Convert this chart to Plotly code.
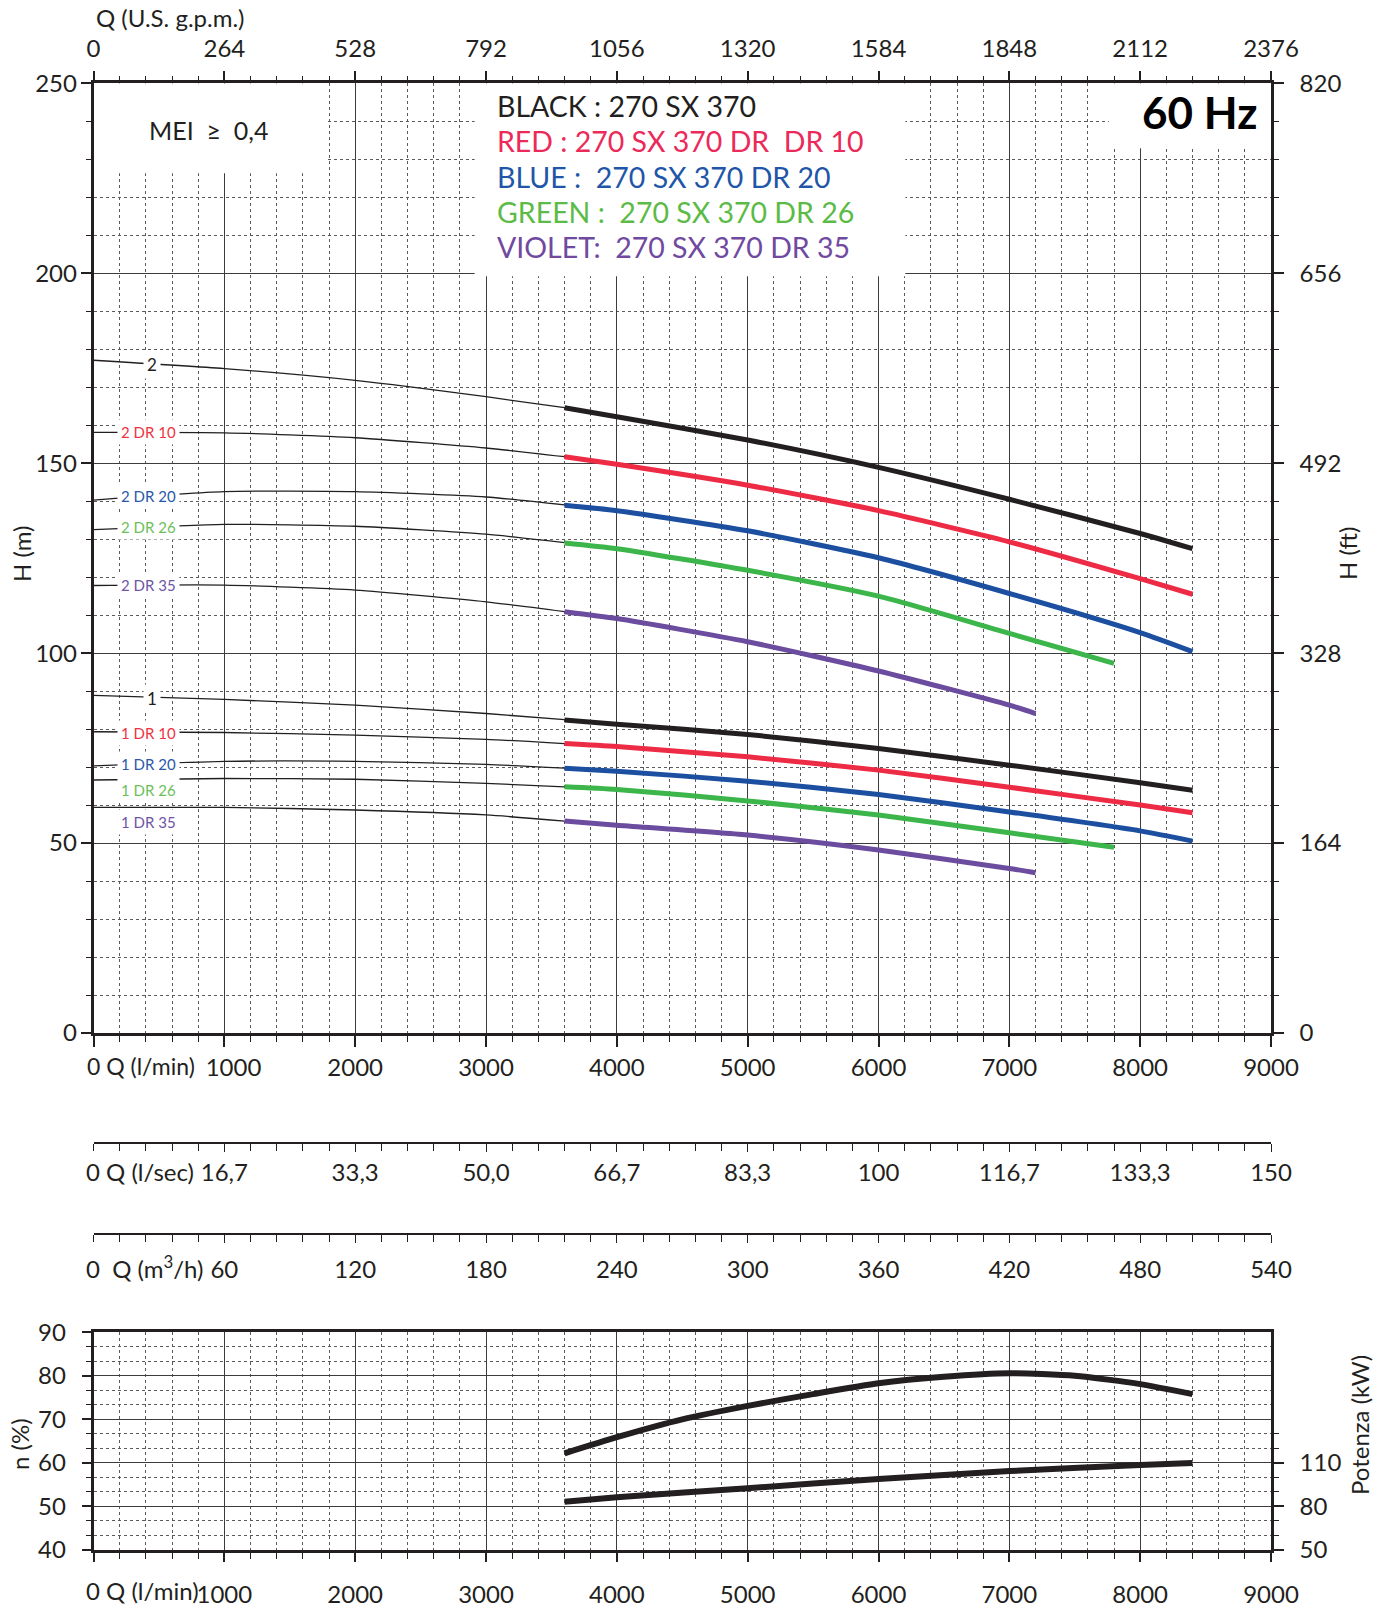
import plotly.graph_objects as go

# ---------------- data ----------------
# flow in l/min
Q_THIN = [0, 1000, 2000, 3000, 3600]
Q_FULL = [3600, 4000, 5000, 6000, 7000, 8000, 8400]
Q_G = [3600, 4000, 5000, 6000, 7000, 7800]
Q_V = [3600, 4000, 5000, 6000, 7000, 7200]

# 2-stage heads (m)
H2_THIN_BLACK = [177.1, 174.9, 171.8, 167.5, 164.6]
H2_THIN_RED = [158.1, 158.0, 156.7, 154.0, 151.7]
H2_THIN_BLUE = [140.3, 142.5, 142.5, 141.1, 139.0]
H2_THIN_GREEN = [132.5, 133.9, 133.4, 131.3, 129.1]
H2_THIN_VIOLET = [117.8, 117.9, 116.6, 113.5, 110.9]
H2_BLACK = [164.6, 162.2, 156.1, 148.9, 140.5, 131.5, 127.5]
H2_RED = [151.7, 149.7, 144.2, 137.5, 129.3, 119.6, 115.5]
H2_BLUE = [138.9, 137.5, 132.2, 125.1, 115.7, 105.4, 100.4]
H2_GREEN = [129.0, 127.5, 121.8, 115.0, 105.2, 97.3]
H2_VIOLET = [110.9, 109.1, 103.0, 95.3, 86.3, 84.1]

# 1-stage heads (m)
H1_THIN_BLACK = [88.9, 87.8, 86.3, 84.1, 82.5]
H1_THIN_RED = [79.3, 79.1, 78.4, 77.3, 76.2]
H1_THIN_BLUE = [70.3, 71.5, 71.5, 70.7, 69.7]
H1_THIN_GREEN = [66.6, 67.0, 66.8, 65.7, 64.8]
H1_THIN_VIOLET = [59.4, 59.4, 58.7, 57.4, 55.8]
H1_BLACK = [82.4, 81.3, 78.6, 74.9, 70.5, 65.9, 63.9]
H1_RED = [76.2, 75.4, 72.7, 69.2, 64.7, 60.0, 58.0]
H1_BLUE = [69.7, 68.9, 66.3, 62.8, 58.2, 53.2, 50.5]
H1_GREEN = [64.8, 64.1, 61.1, 57.4, 52.7, 48.9]
H1_VIOLET = [55.8, 54.7, 52.1, 48.2, 43.3, 42.2]

# efficiency (%) and power (kW)
Q_EFF = [3600, 4000, 4500, 5000, 5500, 6000, 6500, 7000, 7500, 8000, 8400]
EFF = [62.2, 65.9, 70.0, 73.1, 75.8, 78.3, 79.8, 80.6, 80.0, 78.1, 75.8]
Q_POW = [3600, 4000, 5000, 6000, 7000, 8000, 8400]
POW = [83.3, 86.3, 92.6, 98.9, 104.4, 108.5, 110.0]

# tick labels
LMIN_TICKS = [0, 1000, 2000, 3000, 4000, 5000, 6000, 7000, 8000, 9000]
LMIN_TEXT = ["", "   1000", "2000", "3000", "4000", "5000", "6000", "7000", "8000", "9000"]
LMIN_TEXT_LOW = ["", "1000", "2000", "3000", "4000", "5000", "6000", "7000", "8000", "9000"]
GPM_TICKS = [0, 264, 528, 792, 1056, 1320, 1584, 1848, 2112, 2376]
LSEC_TICKS = [16.667, 33.333, 50, 66.667, 83.333, 100, 116.667, 133.333, 150]
LSEC_TEXT = ["16,7", "33,3", "50,0", "66,7", "83,3", "100", "116,7", "133,3", "150"]
M3H_TICKS = [60, 120, 180, 240, 300, 360, 420, 480, 540]
M3H_TEXT = ["60", "120", "180", "240", "300", "360", "420", "480", "540"]
H_M_TICKS = [0, 50, 100, 150, 200, 250]
H_FT_TICKS = [0, 164, 328, 492, 656, 820]
EFF_TICKS = [40, 50, 60, 70, 80, 90]
POW_TICKS = [50, 80, 110]
POW_MINOR = [60, 70, 90, 100, 120, 130]

LEGEND_LINES = [
    ("BLACK : 270 SX 370", "#231f20"),
    ("RED : 270 SX 370 DR  DR 10", "#ec2a5a"),
    ("BLUE :  270 SX 370 DR 20", "#1f56a8"),
    ("GREEN :  270 SX 370 DR 26", "#5cbb46"),
    ("VIOLET:  270 SX 370 DR 35", "#7049a0"),
]

# ---------------- styling / layout ----------------
W, H = 1378, 1608
FONT = "Lato"
INK = "#231f20"
C_BLACK, C_RED, C_BLUE, C_GREEN, C_VIOLET = "#231f20", "#ee2b45", "#1d4fa1", "#3cb54a", "#6b4c9e"
L_RED, L_BLUE, L_GREEN, L_VIOLET = "#ee3340", "#2a58a8", "#6cc05a", "#6f55a5"

X0, X1 = 93.5, 1271.0
MAIN_T, MAIN_B = 83.3, 1033.0
EFF_T, EFF_B = 1332.3, 1550.0
LSEC_Y, M3H_Y = 1143.3, 1234.3


def fx(p):
    return p / W


def fy(p):
    return 1 - p / H


fig = go.Figure()


def line(x, y, color, width, xa="x", ya="y"):
    fig.add_trace(go.Scatter(x=x, y=y, mode="lines", xaxis=xa, yaxis=ya,
                             line=dict(color=color, width=width, shape="spline", smoothing=0.6),
                             showlegend=False, hoverinfo="skip"))


thin = [H2_THIN_BLACK, H2_THIN_RED, H2_THIN_BLUE, H2_THIN_GREEN, H2_THIN_VIOLET,
        H1_THIN_BLACK, H1_THIN_RED, H1_THIN_BLUE, H1_THIN_GREEN, H1_THIN_VIOLET]
for ys in thin:
    line(Q_THIN, ys, INK, 1.3)

thick = [(Q_FULL, H2_BLACK, C_BLACK), (Q_FULL, H2_RED, C_RED), (Q_FULL, H2_BLUE, C_BLUE),
         (Q_G, H2_GREEN, C_GREEN), (Q_V, H2_VIOLET, C_VIOLET),
         (Q_FULL, H1_BLACK, C_BLACK), (Q_FULL, H1_RED, C_RED), (Q_FULL, H1_BLUE, C_BLUE),
         (Q_G, H1_GREEN, C_GREEN), (Q_V, H1_VIOLET, C_VIOLET)]
for xs, ys, c in thick:
    line(xs, ys, c, 5)

line(Q_EFF, EFF, INK, 6, "x5", "y3")
line(Q_POW, POW, INK, 6, "x5", "y4")

# invisible helpers so secondary axes are drawn
for xa, ya in [("x2", "y"), ("x", "y2"), ("x3", "y"), ("x4", "y")]:
    fig.add_trace(go.Scatter(x=[0], y=[0], xaxis=xa, yaxis=ya, mode="markers",
                             marker=dict(opacity=0), showlegend=False, hoverinfo="skip"))

tickfont = dict(family=FONT, size=24, color=INK)
XDOM = [fx(X0), fx(X1)]
COMMON = dict(automargin=False, zeroline=False, tickcolor=INK, linecolor=INK, tickfont=tickfont)
GRID = dict(showgrid=True, gridcolor="#3c3c3c", gridwidth=1.2)
MINOR_GRID = dict(showgrid=True, gridcolor="#5a5a5a", griddash="dot", gridwidth=1)

fig.update_layout(
    template="none",
    width=W, height=H, margin=dict(l=0, r=0, t=0, b=0, autoexpand=False),
    paper_bgcolor="white", plot_bgcolor="white", showlegend=False,
    font=dict(family=FONT, color=INK),
    xaxis=dict(domain=XDOM, anchor="y", range=[0, 9000], tickvals=LMIN_TICKS, ticktext=LMIN_TEXT,
               ticks="outside", ticklen=11, tickwidth=1.5, ticklabelstandoff=0,
               showline=True, linewidth=2.5,
               minor=dict(dtick=200, tick0=0, ticks="outside", ticklen=6, tickcolor=INK, tickwidth=1,
                          **MINOR_GRID),
               **GRID, **COMMON),
    xaxis2=dict(overlaying="x", anchor="y", side="top", range=[0, 2376], tickvals=GPM_TICKS,
                ticks="outside", ticklen=10, tickwidth=1.5, ticklabelstandoff=4,
                showline=True, linewidth=2.5, showgrid=False,
                minor=dict(dtick=52.8, tick0=0, ticks="outside", ticklen=5, tickcolor=INK, tickwidth=1),
                **COMMON),
    yaxis=dict(domain=[fy(MAIN_B), fy(MAIN_T)], anchor="x", range=[0, 250], tickvals=H_M_TICKS,
               ticks="outside", ticklen=10, tickwidth=1.5, ticklabelstandoff=-1,
               showline=True, linewidth=2.5,
               minor=dict(dtick=10, tick0=0, ticks="outside", ticklen=5, tickcolor=INK, tickwidth=1,
                          **MINOR_GRID),
               **GRID, **COMMON),
    yaxis2=dict(overlaying="y", anchor="x", side="right", range=[0, 820], tickvals=H_FT_TICKS,
                ticks="outside", ticklen=10, tickwidth=1.5, ticklabelstandoff=11,
                showline=True, linewidth=2.5, showgrid=False,
                minor=dict(dtick=32.8, tick0=0, ticks="outside", ticklen=5, tickcolor=INK, tickwidth=1),
                **COMMON),
    xaxis3=dict(overlaying="x", anchor="free", position=fy(LSEC_Y), side="bottom", range=[0, 150],
                tickvals=LSEC_TICKS, ticktext=LSEC_TEXT, ticks="outside", ticklen=8, tickwidth=1.2,
                ticklabelstandoff=0, showline=True, linewidth=2, showgrid=False,
                minor=dict(dtick=150 / 45, tick0=0, ticks="outside", ticklen=7, tickcolor=INK, tickwidth=1),
                **COMMON),
    xaxis4=dict(overlaying="x", anchor="free", position=fy(M3H_Y), side="bottom", range=[0, 540],
                tickvals=M3H_TICKS, ticktext=M3H_TEXT, ticks="outside", ticklen=8, tickwidth=1.2,
                ticklabelstandoff=6, showline=True, linewidth=2, showgrid=False,
                minor=dict(dtick=12, tick0=0, ticks="outside", ticklen=7, tickcolor=INK, tickwidth=1),
                **COMMON),
    xaxis5=dict(domain=XDOM, anchor="y3", range=[0, 9000], tickvals=LMIN_TICKS, ticktext=LMIN_TEXT_LOW,
                ticks="outside", ticklen=9, tickwidth=1.5, ticklabelstandoff=12,
                showline=True, mirror=True, linewidth=2.5,
                minor=dict(dtick=200, tick0=0, ticks="outside", ticklen=6, tickcolor=INK, tickwidth=1,
                           **MINOR_GRID),
                **GRID, **COMMON),
    yaxis3=dict(domain=[fy(EFF_B), fy(EFF_T)], anchor="x5", range=[40, 90], tickvals=EFF_TICKS,
                ticks="outside", ticklen=9, tickwidth=1.5, ticklabelstandoff=11,
                showline=True, linewidth=2.5,
                minor=dict(dtick=10 / 3, tick0=40, ticks="outside", ticklen=5, tickcolor=INK, tickwidth=1,
                           **MINOR_GRID),
                **GRID, **COMMON),
    yaxis4=dict(overlaying="y3", anchor="x5", side="right", range=[50, 200], tickvals=POW_TICKS,
                ticks="outside", ticklen=10, tickwidth=1.5, ticklabelstandoff=11,
                showline=True, linewidth=2.5, showgrid=False,
                minor=dict(tickvals=POW_MINOR, ticks="outside", ticklen=5, tickcolor=INK, tickwidth=1),
                **COMMON),
)

# white boxes masking the grid behind the text blocks
for x0, x1, y0, y1 in [(0, 1780, 226.3, 250), (2913, 6205, 199.2, 250), (7760, 9000, 232.9, 250)]:
    fig.add_shape(type="rect", xref="x", yref="y", x0=x0, x1=x1, y0=y0, y1=y1,
                  fillcolor="white", line=dict(width=0), layer="between")

ann = []


def text(x, y, s, size=24, color=INK, xanchor="center", yanchor="middle", angle=0, **kw):
    ann.append(dict(x=fx(x), y=fy(y), xref="paper", yref="paper", text=s, showarrow=False,
                    font=dict(family=FONT, size=size, color=color), xanchor=xanchor,
                    yanchor=yanchor, textangle=angle, **kw))


text(94, 18, "Q (U.S. g.p.m.)", xanchor="left")
text(85, 1066, "0 Q (l/min)", size=23, xanchor="left")
text(84, 1171, "0 Q (l/sec)", xanchor="left")
text(84, 1267, "0  Q (m<sup>3</sup>/h)", xanchor="left")
text(84, 1590, "0 Q (l/min)", xanchor="left")
text(21, 554, "H (m)", angle=-90)
text(1347, 554, "H (ft)", angle=-90)
text(19, 1444, "n (%)", angle=-90)
text(1359, 1425, "Potenza (kW)", angle=-90)
text(208, 130, "MEI  \u2265  0,4", size=25)
text(1259, 112, "<b>60 Hz</b>", size=44, color="black", xanchor="right")
for i, (s, c) in enumerate(LEGEND_LINES):
    text(495, 106 + 35.3 * i, s, size=28.5, color=c, xanchor="left")

# curve labels (white background breaks the thin lines like in the print)
CURVE_LABELS = [("2", 176.1, INK), ("2 DR 10", 158.1, L_RED), ("2 DR 20", 141.4, L_BLUE),
                ("2 DR 26", 133.2, L_GREEN), ("2 DR 35", 117.9, L_VIOLET),
                ("1", 88.1, INK), ("1 DR 10", 78.9, L_RED), ("1 DR 20", 70.8, L_BLUE),
                ("1 DR 26", 63.9, L_GREEN), ("1 DR 35", 55.6, L_VIOLET)]
for s, yv, c in CURVE_LABELS:
    xv = 445 if len(s) == 1 else 420
    ann.append(dict(x=xv, y=yv, xref="x", yref="y", text=s, showarrow=False,
                    font=dict(family=FONT, size=15 if len(s) > 1 else 17, color=c),
                    bgcolor="white", borderpad=3, xanchor="center", yanchor="middle"))

fig.update_layout(annotations=ann)

fig.write_html("out.html", config={"displayModeBar": False},
               post_script="document.body.style.margin='0';document.body.style.overflow='hidden';")
